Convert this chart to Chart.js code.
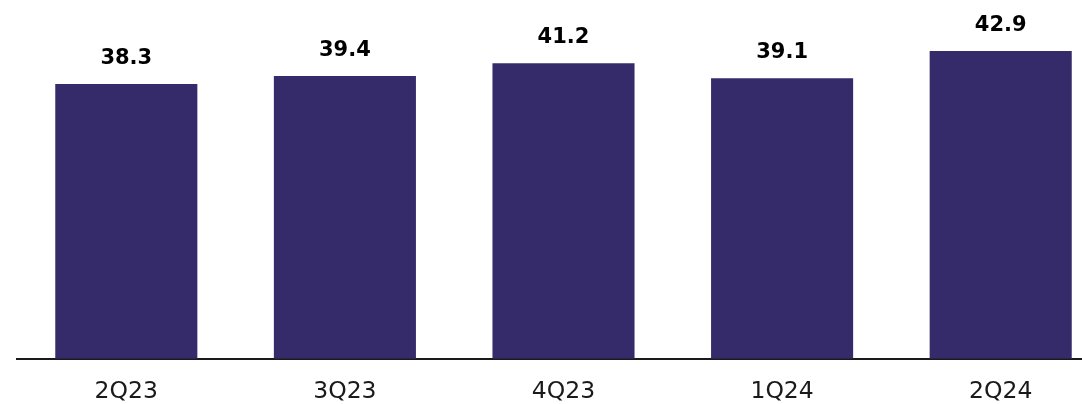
<!DOCTYPE html>
<html>
<head>
<meta charset="utf-8">
<script src="https://cdn.jsdelivr.net/npm/chart.js@4.4.1/dist/chart.umd.min.js"></script>
<style>
  html, body { margin: 0; padding: 0; background: #ffffff; overflow: hidden; }
  #wrap { position: relative; width: 1110px; height: 425px; }
</style>
</head>
<body>
<div id="wrap"><canvas id="c"></canvas></div>
<script>
const categories = ['2Q23', '3Q23', '4Q23', '1Q24', '2Q24'];
const values = [38.3, 39.4, 41.2, 39.1, 42.9];
const valueLabels = ['38.3', '39.4', '41.2', '39.1', '42.9'];

const barColor = '#362b6a';

const topLabels = {
  id: 'topLabels',
  afterDatasetsDraw(chart) {
    const ctx = chart.ctx;
    const meta = chart.getDatasetMeta(0);
    ctx.save();
    ctx.font = 'bold 21px "DejaVu Sans"';
    ctx.fillStyle = '#000000';
    ctx.textAlign = 'center';
    ctx.textBaseline = 'alphabetic';
    meta.data.forEach((bar, i) => {
      ctx.fillText(valueLabels[i], bar.x, bar.y - 20);
    });
    ctx.restore();
  }
};

new Chart(document.getElementById('c'), {
  type: 'bar',
  data: {
    labels: categories,
    datasets: [{
      data: values,
      backgroundColor: barColor,
      borderWidth: 0,
      barPercentage: 0.65,
      categoryPercentage: 1.0
    }]
  },
  options: {
    responsive: true,
    maintainAspectRatio: false,
    animation: false,
    layout: { padding: { left: 17, right: 0, top: 0, bottom: 0 } },
    plugins: { legend: { display: false }, tooltip: { enabled: false } },
    scales: {
      x: {
        grid: { display: false, drawTicks: false },
        border: { display: true, color: '#1a1a1a', width: 2 },
        ticks: {
          color: '#1a1a1a',
          font: { family: '"DejaVu Sans"', size: 23.5 },
          padding: 19
        }
      },
      y: {
        display: false,
        min: 0,
        max: 50
      }
    }
  },
  plugins: [topLabels]
});
</script>
</body>
</html>
